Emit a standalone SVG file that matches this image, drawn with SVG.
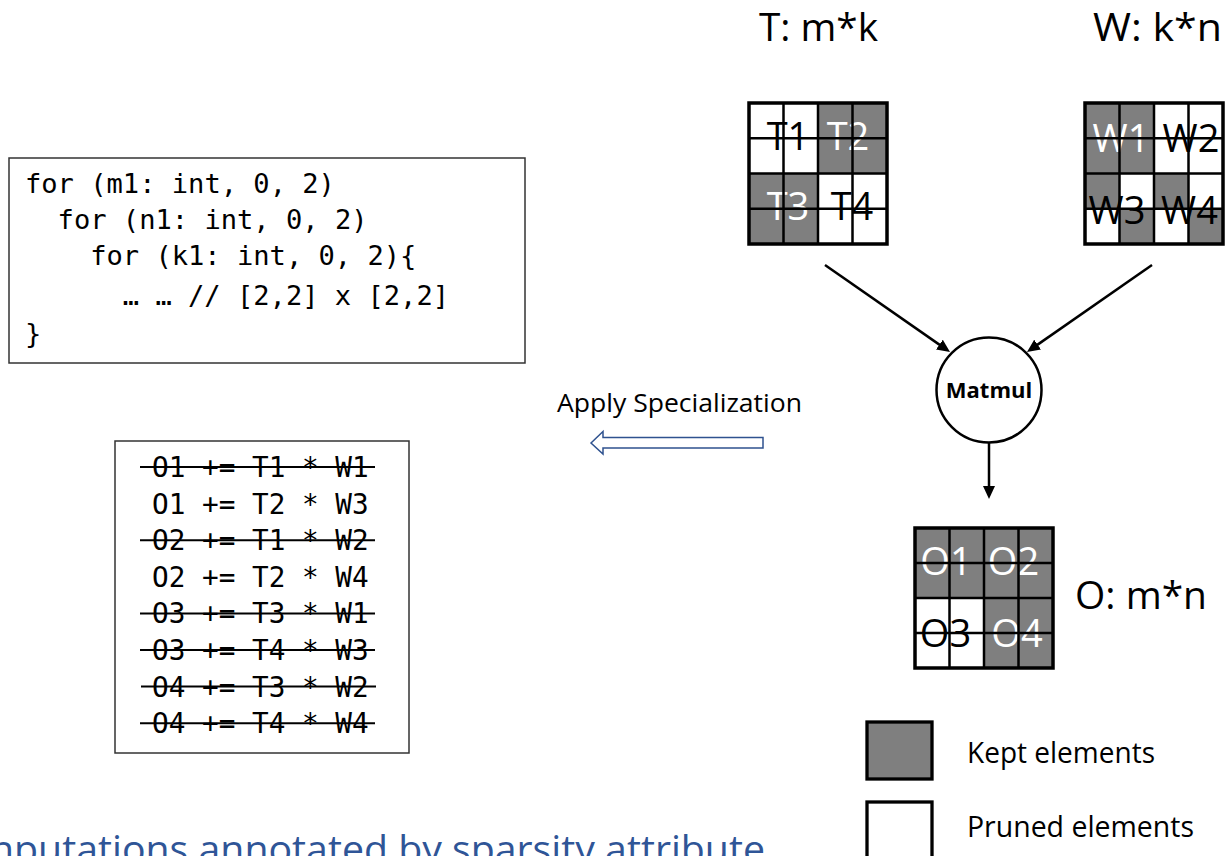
<svg xmlns="http://www.w3.org/2000/svg" width="1227" height="856" viewBox="0 0 1227 856">
  <style>
    .sans { font-family: "Open Sans", "Noto Sans", "Liberation Sans", sans-serif; }
    .mono { font-family: "DejaVu Sans Mono", "Liberation Mono", monospace; fill: #000; }
    .kept { fill: #7f7f7f; }
    .grid { fill: none; stroke: #000; stroke-width: 2.5; }
    .frame { fill: none; stroke: #000; stroke-width: 3.5; }
    .cell-label { font-family: "Open Sans", "Noto Sans", "Liberation Sans", sans-serif; font-size: 38px; text-anchor: middle; }
    .on-dark { fill: #fff; }
    .on-light { fill: #000; }
    .title { font-size: 39px; fill: #000; }
    .strike { stroke: #000; stroke-width: 2; }
    .edge { stroke: #000; stroke-width: 2.5; fill: none; marker-end: url(#head); }
  </style>
  <defs>
    <marker id="head" markerUnits="userSpaceOnUse" markerWidth="14" markerHeight="12" refX="7" refY="6" orient="auto">
      <path d="M0 0L13 6L0 12z" fill="#000"/>
    </marker>
  </defs>

  <rect width="1227" height="856" fill="#fff"/>

  <!-- tensor titles -->
  <text id="title-T" class="sans title" x="759" y="41" textLength="119" lengthAdjust="spacingAndGlyphs">T: m*k</text>
  <text id="title-W" class="sans title" x="1093" y="41" textLength="129" lengthAdjust="spacingAndGlyphs">W: k*n</text>

  <!-- T: 4x4 blocks, T2 and T3 kept -->
  <g id="matrix-T" transform="translate(749,103)">
    <rect class="kept" x="69" y="0" width="69" height="70.5"/>
    <rect class="kept" x="0" y="70.5" width="69" height="70.5"/>
    <text class="cell-label on-light" x="39" y="47">T1</text>
    <text class="cell-label on-dark" x="99" y="47">T2</text>
    <text class="cell-label on-dark" x="39" y="117">T3</text>
    <text class="cell-label on-light" x="103" y="117">T4</text>
    <path class="grid" d="M34.5 0V141M69 0V141M103.5 0V141M0 35.25H138M0 70.5H138M0 105.75H138"/>
    <rect class="frame" x="0" y="0" width="138" height="141"/>
  </g>

  <!-- W: W1 dense, W3/W4 diagonal -->
  <g id="matrix-W" transform="translate(1085,103)">
    <rect class="kept" x="0" y="0" width="69" height="70.5"/>
    <rect class="kept" x="0" y="70.5" width="34.5" height="35.25"/>
    <rect class="kept" x="69" y="70.5" width="34.5" height="35.25"/>
    <rect class="kept" x="34.5" y="105.75" width="34.5" height="35.25"/>
    <rect class="kept" x="103.5" y="105.75" width="34.5" height="35.25"/>
    <text class="cell-label on-dark" x="36" y="49">W1</text>
    <text class="cell-label on-light" x="106" y="49">W2</text>
    <text class="cell-label on-light" x="32" y="121">W3</text>
    <text class="cell-label on-light" x="104.5" y="121">W4</text>
    <path class="grid" d="M34.5 0V141M69 0V141M103.5 0V141M0 35.25H138M0 70.5H138M0 105.75H138"/>
    <rect class="frame" x="0" y="0" width="138" height="141"/>
  </g>

  <!-- Matmul operator -->
  <g id="node-matmul">
    <circle cx="989" cy="390" r="52.5" fill="#fff" stroke="#000" stroke-width="2.5"/>
    <text class="sans" x="989" y="398" font-size="22" font-weight="bold" text-anchor="middle" fill="#000">Matmul</text>
  </g>

  <!-- O: output blocks, O3 pruned -->
  <g id="matrix-O" transform="translate(915,528)">
    <rect class="kept" x="0" y="0" width="138" height="70"/>
    <rect class="kept" x="69" y="70" width="69" height="70"/>
    <text class="cell-label on-dark" x="31" y="47">O1</text>
    <text class="cell-label on-dark" x="98.5" y="47">O2</text>
    <text class="cell-label on-light" x="30.5" y="119">O3</text>
    <text class="cell-label on-dark" x="102" y="119">O4</text>
    <path class="grid" d="M34.5 0V140M69 0V140M103.5 0V140M0 35H138M0 70H138M0 105H138"/>
    <rect class="frame" x="0" y="0" width="138" height="140"/>
  </g>
  <text id="title-O" class="sans title" x="1075" y="609" textLength="132" lengthAdjust="spacingAndGlyphs">O: m*n</text>

  <!-- data flow -->
  <g id="connectors">
    <path class="edge" d="M825 265L945.1 348.6"/>
    <path class="edge" d="M1152 265L1031.9 348.6"/>
    <path class="edge" d="M989 443V493"/>
  </g>

  <!-- loop nest -->
  <g id="code-loops">
    <rect x="9" y="158" width="516" height="205" fill="#fff" stroke="#333" stroke-width="1.5"/>
    <g class="mono" font-size="27.1">
      <text x="25" y="193">for (m1: int, 0, 2)</text>
      <text x="57.6" y="229">for (n1: int, 0, 2)</text>
      <text x="90.2" y="265">for (k1: int, 0, 2){</text>
      <text x="122.8" y="305">… … // [2,2] x [2,2]</text>
      <text x="25" y="343">}</text>
    </g>
  </g>

  <!-- transformation label and arrow -->
  <g id="apply-specialization">
    <text class="sans" x="557" y="412" font-size="25.5" fill="#000" textLength="245" lengthAdjust="spacingAndGlyphs">Apply Specialization</text>
    <path d="M591 443L603 431.5V437.5H763V448H603V454Z" fill="#fff" stroke="#2f528f" stroke-width="1.5"/>
  </g>

  <!-- specialized statements -->
  <g id="statements">
    <rect x="115" y="441" width="294" height="312" fill="#fff" stroke="#333" stroke-width="1.5"/>
    <g class="mono" font-size="27.7">
      <text x="152" y="477">O1 += T1 * W1</text>
      <text x="152" y="513.6">O1 += T2 * W3</text>
      <text x="152" y="550.2">O2 += T1 * W2</text>
      <text x="152" y="586.8">O2 += T2 * W4</text>
      <text x="152" y="623.4">O3 += T3 * W1</text>
      <text x="152" y="660">O3 += T4 * W3</text>
      <text x="152" y="696.6">O4 += T3 * W2</text>
      <text x="152" y="733.2">O4 += T4 * W4</text>
    </g>
    <g class="strike">
      <line x1="140" y1="467" x2="375" y2="467"/>
      <line x1="140" y1="540.2" x2="375" y2="540.2"/>
      <line x1="140" y1="613.4" x2="375" y2="613.4"/>
      <line x1="140" y1="650" x2="375" y2="650"/>
      <line x1="141" y1="686.6" x2="376" y2="686.6"/>
      <line x1="140" y1="723.2" x2="375" y2="723.2"/>
    </g>
  </g>

  <!-- legend -->
  <g id="legend-kept">
    <rect x="867" y="722" width="65" height="57" fill="#7f7f7f" stroke="#000" stroke-width="3.3"/>
    <text class="sans" x="967" y="763" font-size="30" fill="#000" textLength="188" lengthAdjust="spacingAndGlyphs">Kept elements</text>
  </g>
  <g id="legend-pruned">
    <rect x="867" y="802" width="65" height="70" fill="#fff" stroke="#000" stroke-width="3.3"/>
    <text class="sans" x="967" y="837" font-size="30" fill="#000" textLength="227" lengthAdjust="spacingAndGlyphs">Pruned elements</text>
  </g>

  <!-- caption, running past the lower edge -->
  <text id="caption" class="sans" x="-10" y="863" font-size="38" fill="#2f5597" textLength="775" lengthAdjust="spacingAndGlyphs">nputations annotated by sparsity attribute</text>
</svg>
